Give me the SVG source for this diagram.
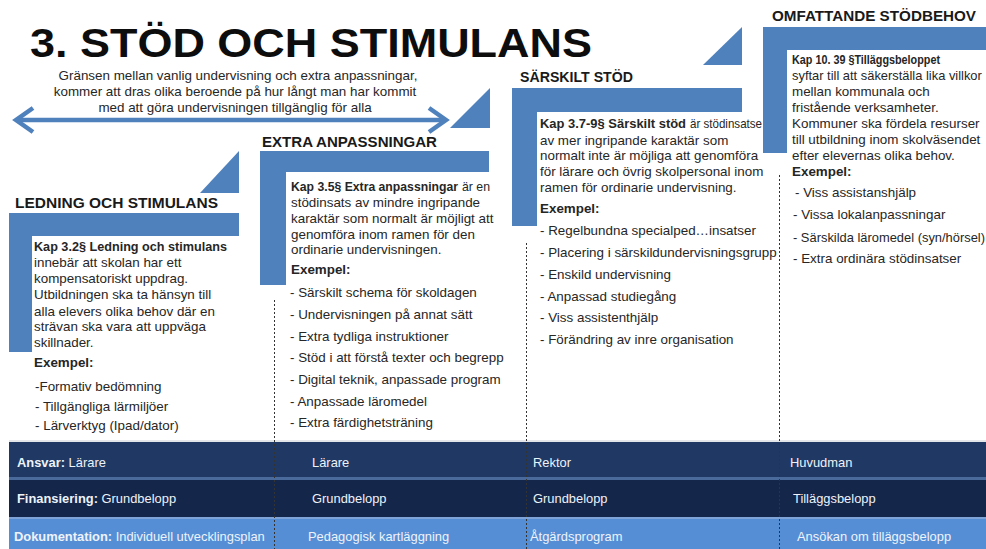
<svg xmlns="http://www.w3.org/2000/svg" width="986" height="549" viewBox="0 0 986 549">
<defs>
<style>
.bg{fill:#ffffff}
.step{fill:#4f81bd}
.title{font-family:"Liberation Sans",Arial,sans-serif;font-weight:bold;font-size:40px;fill:#0d0d0d}
.sub{font-family:"Liberation Sans",Arial,sans-serif;font-size:13.4px;fill:#262626}
.head{font-family:"Liberation Sans",Arial,sans-serif;font-weight:bold;font-size:15px;fill:#1a1a1a}
.body{font-family:"Liberation Sans",Arial,sans-serif;font-size:13.4px;fill:#262626}
.b{font-weight:bold}
.band{font-family:"Liberation Sans",Arial,sans-serif;font-size:12.9px;fill:#eef3fa}
.sep{stroke:#333;stroke-width:1;stroke-dasharray:2 2;fill:none}
.arrow{stroke:#4f81bd;stroke-width:4.5;fill:none;stroke-linecap:butt}
</style>
</defs>
<rect class="bg" x="0" y="0" width="986" height="549"/>

<g id="title">
<text class="title" x="30" y="57" textLength="562" lengthAdjust="spacingAndGlyphs">3. STÖD OCH STIMULANS</text>
</g>

<g id="subtitle">
<text class="sub" x="238" y="80" text-anchor="middle">Gränsen mellan vanlig undervisning och extra anpassningar,</text>
<text class="sub" x="235" y="96" text-anchor="middle">kommer att dras olika beroende på hur långt man har kommit</text>
<text class="sub" x="235" y="112" text-anchor="middle">med att göra undervisningen tillgänglig för alla</text>
</g>

<g id="connectors">
<line class="arrow" x1="17" y1="120" x2="445" y2="120"/>
<polyline class="arrow" points="33,108 16,120 33,132"/>
<polyline class="arrow" points="429,108 446,120 429,132"/>
</g>

<g id="level1">
<polygon class="step" points="200,193 239,193 239,151"/>
<polygon class="step" points="9,213 239,213 239,236 32,236 32,352 9,352"/>
<text class="head" x="15" y="208" textLength="203" lengthAdjust="spacingAndGlyphs">LEDNING OCH STIMULANS</text>
<text class="body b" x="34" y="251" textLength="193" lengthAdjust="spacingAndGlyphs">Kap 3.2§ Ledning och stimulans</text>
<text class="body" x="34" y="267">innebär att skolan har ett</text>
<text class="body" x="34" y="283">kompensatoriskt uppdrag.</text>
<text class="body" x="34" y="299">Utbildningen ska ta hänsyn till</text>
<text class="body" x="34" y="316">alla elevers olika behov där en</text>
<text class="body" x="34" y="331">strävan ska vara att uppväga</text>
<text class="body" x="34" y="347">skillnader.</text>
<text class="body b" x="34" y="367">Exempel:</text>
<text class="body" x="35" y="391">-Formativ bedömning</text>
<text class="body" x="35" y="411">- Tillgängliga lärmiljöer</text>
<text class="body" x="35" y="430">- Lärverktyg (Ipad/dator)</text>
</g>

<g id="level2">
<polygon class="step" points="450,128 490,128 490,88"/>
<polygon class="step" points="260,151 489,151 489,172 286,172 286,285 260,285"/>
<text class="head" x="262" y="147" textLength="175" lengthAdjust="spacingAndGlyphs">EXTRA ANPASSNINGAR</text>
<text class="body b" x="291" y="191" style="font-size:12.2px" textLength="167" lengthAdjust="spacingAndGlyphs">Kap 3.5§ Extra anpassningar</text>
<text class="body" x="462" y="191" textLength="28" lengthAdjust="spacingAndGlyphs">är en</text>
<text class="body" x="291" y="207">stödinsats av mindre ingripande</text>
<text class="body" x="291" y="223">karaktär som normalt är möjligt att</text>
<text class="body" x="291" y="239">genomföra inom ramen för den</text>
<text class="body" x="291" y="254">ordinarie undervisningen.</text>
<text class="body b" x="291" y="274">Exempel:</text>
<text class="body" x="290" y="297">- Särskilt schema för skoldagen</text>
<text class="body" x="290" y="319">- Undervisningen på annat sätt</text>
<text class="body" x="290" y="341">- Extra tydliga instruktioner</text>
<text class="body" x="290" y="362">- Stöd i att förstå texter och begrepp</text>
<text class="body" x="290" y="384">- Digital teknik, anpassade program</text>
<text class="body" x="290" y="406">- Anpassade läromedel</text>
<text class="body" x="290" y="427">- Extra färdighetsträning</text>
</g>

<g id="level3">
<polygon class="step" points="703,65 742,65 742,27"/>
<polygon class="step" points="512,88 742,88 742,112 537,112 537,226 512,226"/>
<text class="head" x="520" y="82" textLength="113" lengthAdjust="spacingAndGlyphs">SÄRSKILT STÖD</text>
<text class="body b" x="540" y="128" textLength="146" lengthAdjust="spacingAndGlyphs">Kap 3.7-9§ Särskilt stöd</text>
<text class="body" x="690" y="128" textLength="72" lengthAdjust="spacingAndGlyphs">är stödinsatse</text>
<text class="body" x="540" y="145">av mer ingripande karaktär som</text>
<text class="body" x="540" y="160">normalt inte är möjliga att genomföra</text>
<text class="body" x="540" y="176">för lärare och övrig skolpersonal inom</text>
<text class="body" x="540" y="192">ramen för ordinarie undervisning.</text>
<text class="body b" x="540" y="213">Exempel:</text>
<text class="body" x="540" y="235">- Regelbundna specialped…insatser</text>
<text class="body" x="540" y="257">- Placering i särskildundervisningsgrupp</text>
<text class="body" x="540" y="279">- Enskild undervisning</text>
<text class="body" x="540" y="301">- Anpassad studiegång</text>
<text class="body" x="540" y="322">- Viss assistenthjälp</text>
<text class="body" x="540" y="344">- Förändring av inre organisation</text>
</g>

<g id="level4">
<polygon class="step" points="763,27 986,27 986,50 787,50 787,153 763,153"/>
<text class="head" x="772" y="21" textLength="204" lengthAdjust="spacingAndGlyphs">OMFATTANDE STÖDBEHOV</text>
<text class="body b" x="792" y="64" textLength="148" lengthAdjust="spacingAndGlyphs">Kap 10. 39 §Tilläggsbeloppet</text>
<text class="body" x="792" y="80" style="font-size:12.9px">syftar till att säkerställa lika villkor</text>
<text class="body" x="792" y="96">mellan kommunala och</text>
<text class="body" x="792" y="112">fristående verksamheter.</text>
<text class="body" x="792" y="128">Kommuner ska fördela resurser</text>
<text class="body" x="792" y="144">till utbildning inom skolväsendet</text>
<text class="body" x="792" y="160">efter elevernas olika behov.</text>
<text class="body b" x="792" y="176">Exempel:</text>
<text class="body" x="795" y="197">- Viss assistanshjälp</text>
<text class="body" x="793" y="219">- Vissa lokalanpassningar</text>
<text class="body" x="793" y="242" style="font-size:12.9px">- Särskilda läromedel (syn/hörsel)</text>
<text class="body" x="793" y="263">- Extra ordinära stödinsatser</text>
</g>

<g id="bands">
<line x1="9" y1="441" x2="986" y2="441" stroke="#c8cdd4" stroke-width="1"/>
<rect x="9" y="442" width="977" height="35" fill="#1f3864"/>
<rect x="9" y="477" width="977" height="3" fill="#4a6a9c"/>
<rect x="9" y="480" width="977" height="37" fill="#14264a"/>
<rect x="9" y="517" width="977" height="2" fill="#7fa3d6"/>
<rect x="9" y="519" width="977" height="30" fill="#558ed5"/>
<text class="band" x="17" y="467"><tspan class="b">Ansvar:</tspan> Lärare</text>
<text class="band" x="312" y="467">Lärare</text>
<text class="band" x="533" y="467">Rektor</text>
<text class="band" x="790" y="467">Huvudman</text>
<text class="band" x="17" y="503"><tspan class="b">Finansiering:</tspan> Grundbelopp</text>
<text class="band" x="312" y="503">Grundbelopp</text>
<text class="band" x="533" y="503">Grundbelopp</text>
<text class="band" x="793" y="503">Tilläggsbelopp</text>
<text class="band" x="14" y="541"><tspan class="b">Dokumentation:</tspan> Individuell utvecklingsplan</text>
<text class="band" x="308" y="541">Pedagogisk kartläggning</text>
<text class="band" x="530" y="541">Åtgärdsprogram</text>
<text class="band" x="797" y="541">Ansökan om tilläggsbelopp</text>
</g>

<g id="separators">
<line class="sep" x1="274.5" y1="300" x2="274.5" y2="549"/>
<line class="sep" x1="526.5" y1="243" x2="526.5" y2="549"/>
<line class="sep" x1="779.5" y1="175" x2="779.5" y2="549"/>
</g>
</svg>
